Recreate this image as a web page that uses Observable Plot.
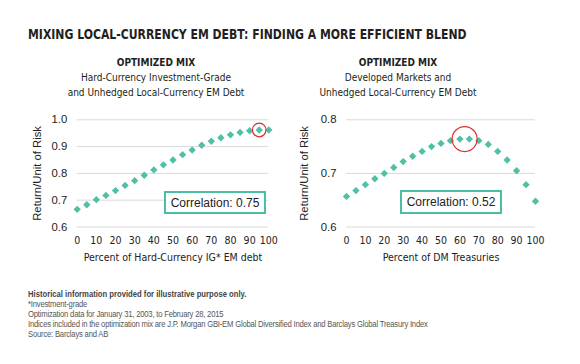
<!DOCTYPE html>
<html>
<head>
<meta charset="utf-8">
<script src="https://cdn.jsdelivr.net/npm/d3@7"></script>
<script src="https://cdn.jsdelivr.net/npm/@observablehq/plot@0.6"></script>
<style>
  body { margin: 0; background: #fff; }
  #root { position: relative; width: 580px; height: 364px; background: #fff; overflow: hidden; }
  .abs { position: absolute; white-space: nowrap; }
  .title { left: 28px; top: 25.5px; font-family: "DejaVu Sans Condensed", "DejaVu Sans", sans-serif; font-weight: bold; font-size: 13.5px; color: #231f20; transform: scaleX(0.896); transform-origin: left center; }
  .sub { font-family: "DejaVu Sans Condensed", "DejaVu Sans", sans-serif; font-size: 10px; color: #231f20; text-align: center; line-height: 15px; transform: translateX(-50%); }
  .sub b { font-size: 10px; }
  .corr { border: 2px solid #4bbfa4; font-family: "Liberation Sans", Arial, sans-serif; font-size: 12px; color: #222; box-sizing: border-box; display: flex; align-items: center; justify-content: center; background: #fff; }
  .foot { left: 28px; top: 290px; font-family: "Liberation Sans", Arial, sans-serif; font-size: 8.3px; line-height: 9.9px; color: #555; letter-spacing: -0.22px; transform: scaleX(0.924); transform-origin: left top; }
  .foot b { color: #444; letter-spacing: 0; }
  .panel { position: absolute; }
  .panel svg { overflow: visible; }
  .panel g[aria-label="y-axis tick label"] text, .panel g[aria-label="y-axis label"] text { font-family: "Liberation Sans", Arial, sans-serif; }
  .panel g[aria-label="x-axis tick label"] text, .panel g[aria-label="x-axis label"] text { font-family: "DejaVu Sans Condensed", "DejaVu Sans", sans-serif; }
</style>
</head>
<body>
<div id="root">
  <div class="abs title" id="title"></div>
  <div class="abs sub" id="subL" style="left:156px; top:55px;"></div>
  <div class="abs sub" id="subR" style="left:398px; top:55px;"></div>
  <div class="panel" id="panelL" style="left:20px; top:105px;"></div>
  <div class="panel" id="panelR" style="left:290px; top:105px;"></div>
  <div class="abs corr" id="corrL" style="left:164px; top:191px; width:102px; height:23px;"></div>
  <div class="abs corr" id="corrR" style="left:400px; top:190px; width:102px; height:24px;"></div>
  <div class="abs foot" id="foot"></div>
</div>
<script>
// ---- Data ----
const titleText = "MIXING LOCAL-CURRENCY EM DEBT: FINDING A MORE EFFICIENT BLEND";
const subtitleHead = "OPTIMIZED MIX";
const subtitleLeft = ["Hard-Currency Investment-Grade", "and Unhedged Local-Currency EM Debt"];
const subtitleRight = ["Developed Markets and", "Unhedged Local-Currency EM Debt"];

const mixPercent = [0, 5, 10, 15, 20, 25, 30, 35, 40, 45, 50, 55, 60, 65, 70, 75, 80, 85, 90, 95, 100];
const hardCurrencyRatio = [0.666, 0.683, 0.702, 0.718, 0.736, 0.755, 0.773, 0.793, 0.813, 0.832, 0.850, 0.870, 0.887, 0.905, 0.920, 0.933, 0.944, 0.953, 0.959, 0.962, 0.962];
const dmTreasuryRatio = [0.657, 0.668, 0.679, 0.690, 0.700, 0.711, 0.722, 0.732, 0.741, 0.750, 0.756, 0.761, 0.764, 0.764, 0.761, 0.754, 0.741, 0.725, 0.705, 0.679, 0.648];

const highlightLeft = [95];
const highlightRight = [60, 65];

const xTicks = [0, 10, 20, 30, 40, 50, 60, 70, 80, 90, 100];
const yTicksLeft = [0.6, 0.7, 0.8, 0.9, 1.0];
const yTicksRight = [0.6, 0.7, 0.8];

const yLabel = "Return/Unit of Risk";
const xLabelLeft = "Percent of Hard-Currency IG* EM debt";
const xLabelRight = "Percent of DM Treasuries";
const correlationLeft = "Correlation: 0.75";
const correlationRight = "Correlation: 0.52";

const footBold = "Historical information provided for illustrative purpose only.";
const footLines = [
  "*Investment-grade",
  "Optimization data for January 31, 2003, to February 28, 2015",
  "Indices included in the optimization mix are J.P. Morgan GBI-EM Global Diversified Index and Barclays Global Treasury Index",
  "Source: Barclays and AB"
];

// ---- Build ----
const teal = "#4fc0a6";
const red = "#d8312d";

document.getElementById("title").textContent = titleText;
function sub(el, lines) {
  const e = document.getElementById(el);
  e.innerHTML = "";
  const b = document.createElement("b"); b.textContent = subtitleHead; e.appendChild(b);
  for (const l of lines) { e.appendChild(document.createElement("br")); e.appendChild(document.createTextNode(l)); }
}
sub("subL", subtitleLeft);
sub("subR", subtitleRight);
document.getElementById("corrL").textContent = correlationLeft;
document.getElementById("corrR").textContent = correlationRight;
const foot = document.getElementById("foot");
const fb = document.createElement("b"); fb.textContent = footBold; foot.appendChild(fb);
for (const l of footLines) { foot.appendChild(document.createElement("br")); foot.appendChild(document.createTextNode(l)); }

function panel(values, yDomain, yTicks, xLabel, highlight, ringR, opts) {
  const data = mixPercent.map((p, i) => ({p, v: values[i]}));
  const hi = data.filter(d => highlight.includes(d.p));
  const ring = [{p: d3.mean(hi, d => d.p), v: d3.mean(hi, d => d.v)}];
  return Plot.plot({
    width: opts.width, height: 160,
    marginLeft: opts.ml, marginRight: opts.mr, marginTop: 14.3, marginBottom: 38.5,
    x: {domain: [0, 100]},
    y: {domain: yDomain},
    marks: [
      Plot.gridY(yTicks, {stroke: "#d9d9d9", strokeOpacity: 1, strokeWidth: 1}),
      Plot.axisY(yTicks, {tickSize: 0, tickPadding: 10, tickFormat: d3.format(".1f"), fontSize: 11.3, fill: "#222",
        label: yLabel, labelAnchor: "center", labelOffset: opts.lo, labelArrow: "none"}),
      Plot.axisX(xTicks, {tickSize: 0, tickPadding: 10, fontSize: 10.5, fill: "#222",
        label: xLabel, labelAnchor: "center", labelOffset: 34, labelArrow: "none"}),
      Plot.dot(data, {x: "p", y: "v", symbol: "diamond2", r: 3.3, fill: teal}),
      Plot.dot(ring, {x: "p", y: "v", r: ringR, stroke: red, strokeWidth: 1.2, fill: "none"})
    ]
  });
}

document.getElementById("panelL").appendChild(
  panel(hardCurrencyRatio, [0.6, 1.0], yTicksLeft, xLabelLeft, highlightLeft, 6.8, {width: 270, ml: 56.7, mr: 21.7, lo: 44}));
document.getElementById("panelR").appendChild(
  panel(dmTreasuryRatio, [0.6, 0.8], yTicksRight, xLabelRight, highlightRight, 12.5, {width: 290, ml: 56, mr: 45, lo: 47}));
</script>
</body>
</html>
